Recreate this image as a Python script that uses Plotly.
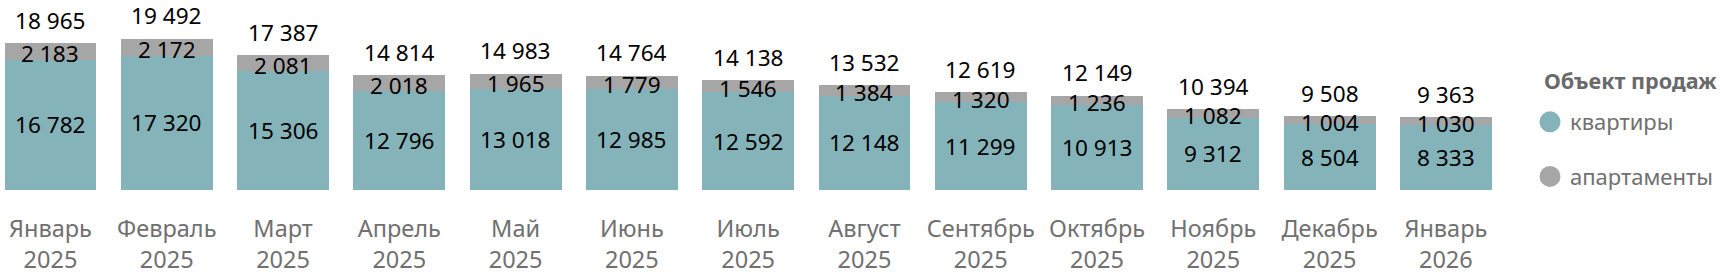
import plotly.graph_objects as go

months = ["Январь<br>2025", "Февраль<br>2025", "Март<br>2025", "Апрель<br>2025",
          "Май<br>2025", "Июнь<br>2025", "Июль<br>2025", "Август<br>2025",
          "Сентябрь<br>2025", "Октябрь<br>2025", "Ноябрь<br>2025",
          "Декабрь<br>2025", "Январь<br>2026"]
flats = [16782, 17320, 15306, 12796, 13018, 12985, 12592, 12148, 11299, 10913, 9312, 8504, 8333]
apts = [2183, 2172, 2081, 2018, 1965, 1779, 1546, 1384, 1320, 1236, 1082, 1004, 1030]
totals = [f + a for f, a in zip(flats, apts)]
series_names = ["квартиры", "апартаменты"]
legend_title = "Объект продаж"

TEAL = "#84B4B9"
GREY = "#A6A6A6"
FONT = "Noto Sans"
LBL = 22.6


def fmt(v):
    return f"{v:,}".replace(",", " ")


fig = go.Figure()
fig.add_trace(go.Bar(x=months, y=flats, marker=dict(color=TEAL, line=dict(width=0)),
                     showlegend=False, hoverinfo="skip"))
fig.add_trace(go.Bar(x=months, y=apts, marker=dict(color=GREY, line=dict(width=0)),
                     showlegend=False, hoverinfo="skip"))

# legend entries (circles)
for nm, col, grp in zip(series_names, [TEAL, GREY], ["a", "b"]):
    fig.add_trace(go.Scatter(x=[None], y=[None], mode="markers", name=nm,
                             marker=dict(symbol="circle", size=16, color=col,
                                         line=dict(width=5, color=col)),
                             legendgroup=grp))

ann = []
for m, f, a, t in zip(months, flats, apts, totals):
    ann.append(dict(x=m, y=f / 2, text=fmt(f), showarrow=False,
                    font=dict(size=LBL, color="#000000", family=FONT), yanchor="middle"))
    ann.append(dict(x=m, y=f + a / 2, text=fmt(a), showarrow=False, yshift=-2,
                    font=dict(size=LBL, color="#000000", family=FONT), yanchor="middle"))
    ann.append(dict(x=m, y=t, text=fmt(t), showarrow=False, yshift=23,
                    font=dict(size=LBL, color="#000000", family=FONT), yanchor="middle"))

# legend title
ann.append(dict(xref="paper", yref="paper", x=1.0251, y=1 - 80 / 190, xanchor="left",
                yanchor="middle", showarrow=False, text=f"<b>{legend_title}</b>",
                font=dict(size=21.6, color="#6a6a6a", family=FONT)))

fig.update_layout(
    width=1720, height=275,
    margin=dict(l=0, r=216, t=0, b=85, autoexpand=False),
    barmode="stack", bargap=0.21,
    plot_bgcolor="white", paper_bgcolor="white",
    font=dict(family=FONT, size=LBL, color="#707070"),
    annotations=ann,
    legend=dict(
        x=1530 / 1504, xanchor="left", y=1 - 101 / 190, yanchor="top",
        font=dict(size=22, color="#707070", family=FONT),
        traceorder="grouped", tracegroupgap=23,
        itemsizing="trace",
    ),
    xaxis=dict(range=[-0.434, 12.5], showgrid=False, showline=False, zeroline=False,
               ticks="outside", ticklen=18, tickcolor="rgba(0,0,0,0)",
               tickfont=dict(size=23.5, color="#707070", family=FONT)),
    yaxis=dict(range=[0, 24513], visible=False),
)

fig.write_html("out.html")
